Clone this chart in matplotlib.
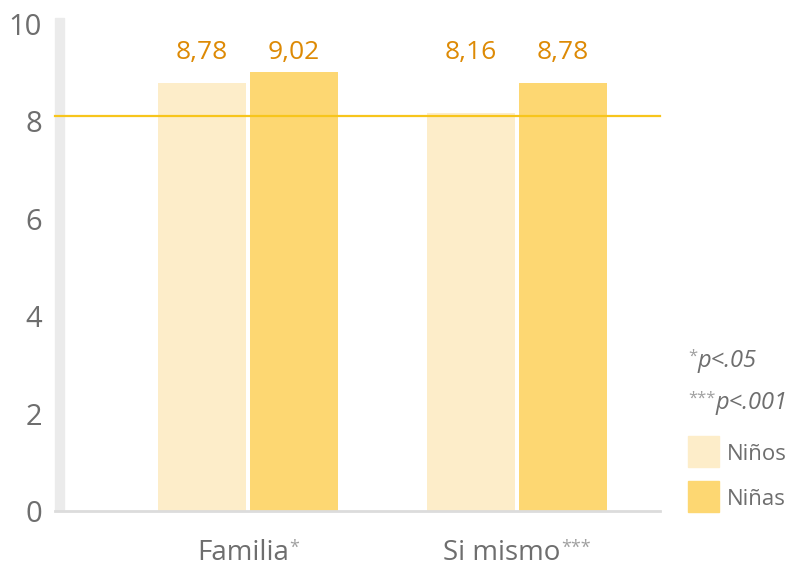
import matplotlib
matplotlib.use("Agg")
import matplotlib.pyplot as plt
import numpy as np
from matplotlib.patches import Rectangle
from matplotlib import transforms

# Data
categories = ["Familia", "Si mismo"]
significance = ["*", "***"]
ninos = [8.78, 8.16]
ninas = [9.02, 8.78]
series_names = ["Niños", "Niñas"]
reference_line = 8.1
yticks = [0, 2, 4, 6, 8, 10]
footnotes = [("*", "p<.05"), ("***", "p<.001")]

plt.rcParams["font.family"] = ["Open Sans", "DejaVu Sans"]

W, H = 804, 568
fig = plt.figure(figsize=(W / 100, H / 100), dpi=100)
ax = fig.add_axes([55 / W, 1 - 511 / H, 605 / W, 493 / H])

c_ninos = "#FDEDC9"
c_ninas = "#FDD772"
c_value = "#DD8A05"
c_text = "#6E6E6E"
c_star = "#A0A0A0"

x = np.arange(len(categories))
bw = 0.327
off = 0.172
ax.bar(x - off, ninos, bw, color=c_ninos, zorder=2)
ax.bar(x + off, ninas, bw, color=c_ninas, zorder=2)

def fmt(v):
    return f"{v:.2f}".replace(".", ",")

label_y = 9.42
for xi, a, b in zip(x, ninos, ninas):
    ax.text(xi - off, label_y, fmt(a), ha="center", va="center",
            fontsize=19, color=c_value)
    ax.text(xi + off, label_y, fmt(b), ha="center", va="center",
            fontsize=19, color=c_value)

ax.axhline(reference_line, color="#F7C51C", lw=1.6, zorder=3, clip_on=False)
ax.axhline(0, color="#DCDCDC", lw=2.0, zorder=4, clip_on=False)
ax.add_patch(Rectangle((0, 0), 9 / 605, 1, transform=ax.transAxes,
                       color="#EBEBEB", zorder=1, clip_on=False))

ax.set_xlim(-0.717, 1.532)
ax.set_ylim(0, 10.12)
ax.set_yticks(yticks)
ax.set_yticklabels([str(t) for t in yticks], fontsize=21, color=c_text)
ax.tick_params(axis="y", length=0, pad=9.5)
ax.set_xticks([])
for s in ax.spines.values():
    s.set_visible(False)

# Category labels with significance stars
fig.canvas.draw()
r = fig.canvas.get_renderer()
blend = ax.get_xaxis_transform()
base_y = -(560 - 511) / 493
for xi, name, st in zip(x, categories, significance):
    t = ax.text(xi, base_y, name, ha="center", va="baseline", fontsize=20,
                color=c_text, transform=blend)
    s = ax.text(xi, base_y, st, ha="left", va="top", fontsize=13,
                color=c_star, transform=blend)
    fig.canvas.draw()
    bt = t.get_window_extent(r)
    bs = s.get_window_extent(r)
    ws = bs.width
    t.set_transform(transforms.offset_copy(blend, fig, x=-ws / 2, y=0, units="dots"))
    cap_top = 20
    s.set_transform(transforms.offset_copy(blend, fig, x=bt.width / 2 - ws / 2,
                                           y=cap_top + 1, units="dots"))

# Footnotes
fn_base = [367, 409]
for (st, txt), yb in zip(footnotes, fn_base):
    s = fig.text(688 / W, 1 - (yb - 18) / H, st, ha="left", va="top",
                 fontsize=12, color=c_star)
    fig.canvas.draw()
    ws = s.get_window_extent(r).width
    fig.text((688 + ws) / W, 1 - yb / H, txt, ha="left", va="baseline",
             fontsize=17, style="italic", color=c_text)

# Legend
leg_base = [460, 505]
for name, col, yb in zip(series_names, [c_ninos, c_ninas], leg_base):
    fig.add_artist(Rectangle((688 / W, 1 - (yb + 7) / H), 31 / W, 31 / H,
                             transform=fig.transFigure, color=col))
    fig.text(727 / W, 1 - yb / H, name, ha="left", va="baseline",
             fontsize=16, color=c_text)

fig.savefig("out.png", dpi=100)
